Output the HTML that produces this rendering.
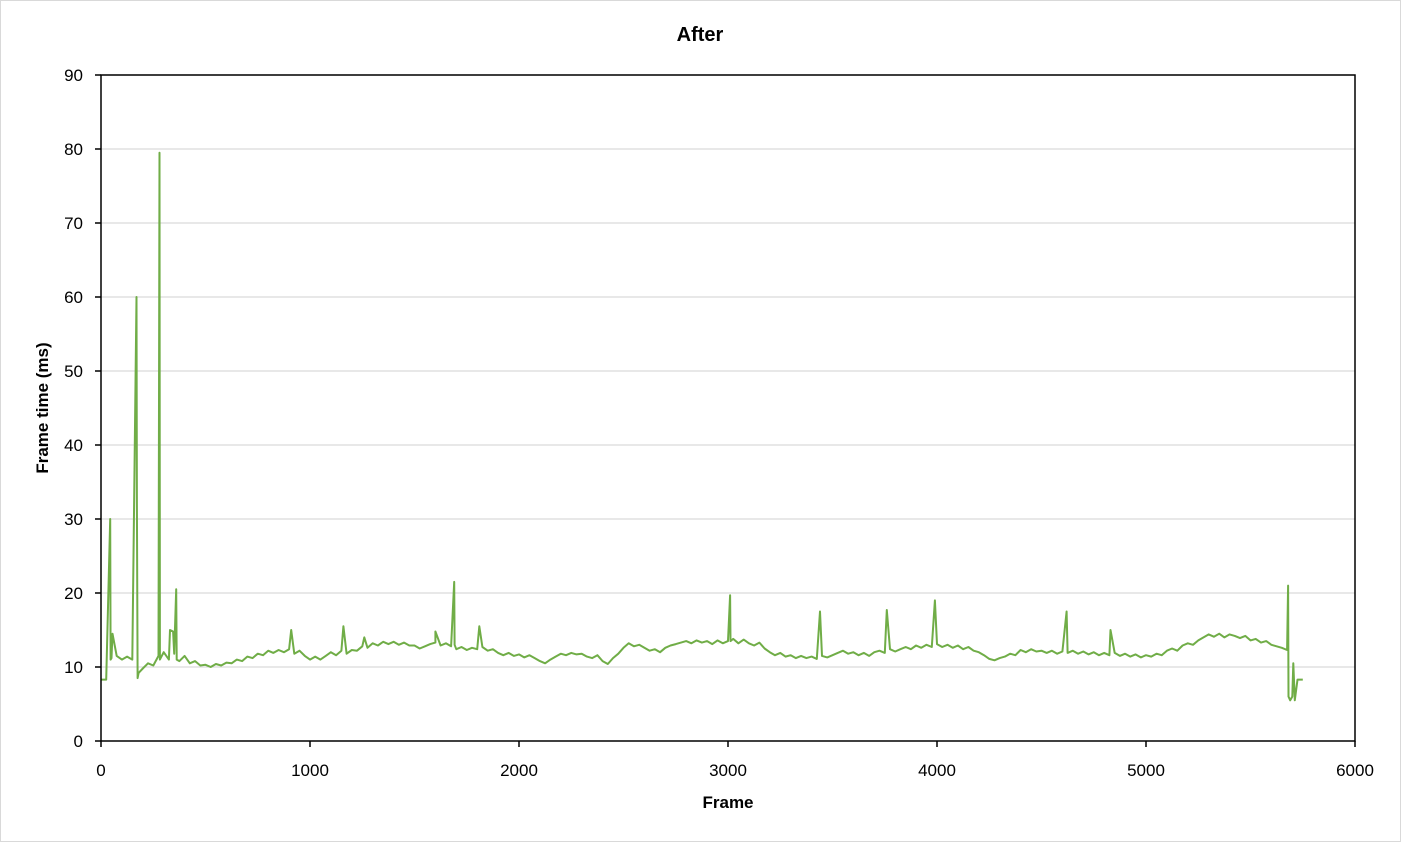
<!DOCTYPE html>
<html><head><meta charset="utf-8"><style>
body{margin:0;background:#fff;}
svg{display:block;font-family:"Liberation Sans",sans-serif;}
</style></head><body>
<svg id="chart" width="1401" height="842">
<rect x="0.5" y="0.5" width="1400" height="841" fill="#fff" stroke="#d9d9d9"/>
<text x="700" y="41" text-anchor="middle" font-size="20" font-weight="bold">After</text>
<g id="grid"></g><g id="series"></g><g id="axes"></g>
<text x="728" y="808" text-anchor="middle" font-size="17" font-weight="bold">Frame</text>
<text transform="translate(48,408) rotate(-90)" text-anchor="middle" font-size="17" font-weight="bold">Frame time (ms)</text>
</svg>
<script>
const xTicks=[0,1000,2000,3000,4000,5000,6000];
const yTicks=[0,10,20,30,40,50,60,70,80,90];
const baseValues=[8.3,8.3,11.2,11.5,11,11.4,11,9,9.8,10.5,10.2,11.5,12,11,11.8,10.8,11.5,10.5,10.8,10.2,10.3,10,10.4,10.2,10.6,10.5,11,10.8,11.4,11.2,11.8,11.6,12.2,11.9,12.3,12,12.4,11.8,12.2,11.5,11,11.4,11,11.5,12,11.6,12.2,11.8,12.3,12.2,12.8,12.6,13.2,12.9,13.4,13.1,13.4,13,13.3,12.9,12.9,12.5,12.8,13.1,13.3,12.9,13.2,12.8,12.4,12.7,12.3,12.6,12.4,12.7,12.2,12.4,11.9,11.6,11.9,11.5,11.7,11.3,11.6,11.2,10.8,10.5,11,11.4,11.8,11.6,11.9,11.7,11.8,11.4,11.2,11.6,10.8,10.4,11.2,11.8,12.6,13.2,12.8,13,12.6,12.2,12.4,12,12.6,12.9,13.1,13.3,13.5,13.2,13.6,13.3,13.5,13.1,13.6,13.2,13.5,13.8,13.2,13.7,13.2,12.9,13.3,12.5,12,11.6,11.9,11.4,11.6,11.2,11.5,11.2,11.4,11.1,11.5,11.3,11.6,11.9,12.2,11.8,12,11.6,11.9,11.5,12,12.2,11.9,12.4,12.1,12.4,12.7,12.4,12.9,12.6,13,12.7,13.1,12.7,13,12.6,12.9,12.4,12.7,12.2,12,11.6,11.1,10.9,11.2,11.4,11.8,11.6,12.3,12,12.4,12.1,12.2,11.9,12.2,11.8,12.1,11.9,12.2,11.8,12.1,11.7,12,11.6,11.9,11.6,11.9,11.5,11.8,11.4,11.7,11.3,11.6,11.4,11.8,11.6,12.2,12.5,12.2,12.9,13.2,13,13.6,14,14.4,14.1,14.5,14,14.4,14.2,13.9,14.2,13.6,13.8,13.3,13.5,13,12.8,12.6,12.3,6,8.3,8.3];
const baseStep=25;
const spikeFrames=[44,46,55,170,172,175,180,280,282,330,345,360,362,910,1160,1260,1600,1690,1692,1810,3010,3012,3440,3760,3990,4620,4830,5680,5682,5690,5705,5712];
const spikeValues=[30,11,14.5,60,32,8.5,9.2,79.5,11,15,14.8,20.5,11,15,15.5,14,14.8,21.5,13,15.5,19.7,13.5,17.5,17.7,19,17.5,15,21,6,5.5,10.5,5.5];

const X0=101,X1=1355,Y0=741,Y1=75;
const xs=v=>X0+(v-0)/6000*(X1-X0);
const ys=v=>Y0-(v/90)*(Y0-Y1);
const NS='http://www.w3.org/2000/svg';
function mk(tag,attrs,parent){const e=document.createElementNS(NS,tag);for(const k in attrs)e.setAttribute(k,attrs[k]);parent.appendChild(e);return e;}
const grid=document.getElementById('grid'),axes=document.getElementById('axes'),ser=document.getElementById('series');
yTicks.forEach(t=>{
  if(t>0){const g=mk('line',{x1:X0,x2:X1,y1:ys(t),y2:ys(t),stroke:'#d9d9d9','stroke-width':1.3},grid);
  
  }
  const tk=mk('line',{x1:X0-6,x2:X0,y1:ys(t),y2:ys(t),stroke:'#000','stroke-width':1.5},axes);
  
  
  const l=mk('text',{x:83,y:ys(t)+6,'text-anchor':'end','font-size':17},axes);l.textContent=t;
  
  
});
xTicks.forEach(t=>{
  const tk=mk('line',{x1:xs(t),x2:xs(t),y1:Y0,y2:Y0+6,stroke:'#000','stroke-width':1.5},axes);
  
  
  const l=mk('text',{x:xs(t),y:776,'text-anchor':'middle','font-size':17},axes);l.textContent=t;
  
  
});
const fr=mk('rect',{x:X0,y:Y1,width:X1-X0,height:Y0-Y1,fill:'none',stroke:'#000','stroke-width':1.5},axes);


let pts=baseValues.map((v,i)=>[i*baseStep,v]);
spikeFrames.forEach((f,i)=>pts.push([f,spikeValues[i]]));
pts.sort((a,b)=>a[0]-b[0]);
const line=mk('polyline',{points:pts.map(p=>xs(p[0]).toFixed(1)+','+ys(p[1]).toFixed(1)).join(' '),fill:'none',stroke:'#70ad47','stroke-width':2,'stroke-linejoin':'round'},ser);


</script>
</body></html>
